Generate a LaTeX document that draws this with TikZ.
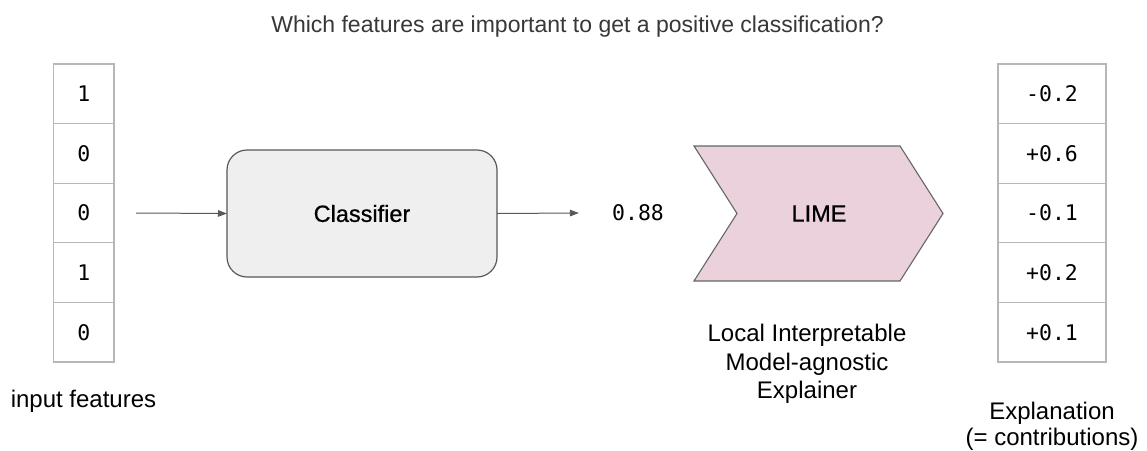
\documentclass[tikz,border=0pt]{standalone}
\usepackage{fontspec}
\setmainfont{Liberation Sans}
\newfontfamily\monofont{DejaVu Sans Mono}
\newfontfamily\mediumfont[FakeBold=0.7]{Liberation Sans}
\usetikzlibrary{arrows.meta}

\definecolor{cellline}{HTML}{B7B7B7}
\definecolor{boxline}{HTML}{595959}
\definecolor{boxfill}{HTML}{EFEFEF}
\definecolor{limefill}{HTML}{EAD1DC}
\definecolor{limeline}{HTML}{666666}
\definecolor{titlegray}{HTML}{383838}

\tikzset{
  cell/.style={draw=cellline, line width=1.3pt, fill=white, inner sep=0pt, outer sep=0pt,
    font=\monofont\fontsize{21.5}{26}\selectfont},
  leftcell/.style={cell, minimum width=60.5pt, minimum height=59.6pt},
  rightcell/.style={cell, minimum width=108pt, minimum height=59.6pt},
  label/.style={inner sep=0pt, font=\fontsize{24}{28.5}\selectfont, align=center},
  boxtext/.style={font=\mediumfont\fontsize{23.5}{28}\selectfont},
  arr/.style={draw=boxline, line width=1pt, -{Triangle[length=9pt,width=6.5pt]}},
}

\begin{document}
\begin{tikzpicture}[x=1pt, y=-1pt]
\useasboundingbox (0,0) rectangle (1147,450);
\fill[white] (0,0) rectangle (1147,450);

% heading
\node[label, anchor=base, text=titlegray, font=\fontsize{23}{27}\selectfont] (title) at (577.5,32)
  {Which features are important to get a positive classification?};

% input feature vector
\node[leftcell] (in1) at (83.75,93.8) {1};
\node[leftcell] (in2) at (83.75,153.4) {0};
\node[leftcell] (in3) at (83.75,213.0) {0};
\node[leftcell] (in4) at (83.75,272.6) {1};
\node[leftcell] (in5) at (83.75,332.2) {0};
\node[label, anchor=base] (inlabel) at (83.5,407) {input features};

% classifier
\node[draw=boxline, fill=boxfill, line width=1.2pt, rounded corners=20pt,
  minimum width=270pt, minimum height=127pt, inner sep=0pt, outer sep=0pt,
  boxtext] (clf) at (362,213.5) {Classifier};

% predicted score
\node[inner sep=0pt, font=\monofont\fontsize{21.5}{26}\selectfont] (score) at (638,213) {0.88};

% LIME chevron
\filldraw[fill=limefill, draw=limeline, line width=1.1pt, line join=miter]
  (694,146) -- (900,146) -- (943,213.5) -- (900,281) -- (694,281) -- (737,213.5) -- cycle;
\node[inner sep=0pt, boxtext] (lime) at (819,213.5) {LIME};
\node[label, anchor=north] (limelabel) at (807,324)
  {Local Interpretable\\Model-agnostic\\Explainer};

% explanation vector
\node[rightcell] (out1) at (1052,93.8) {-0.2};
\node[rightcell] (out2) at (1052,153.4) {+0.6};
\node[rightcell] (out3) at (1052,213.0) {-0.1};
\node[rightcell] (out4) at (1052,272.6) {+0.2};
\node[rightcell] (out5) at (1052,332.2) {+0.1};
\node[label, anchor=north, font=\fontsize{24}{26}\selectfont] (outlabel) at (1052,402)
  {Explanation\\(= contributions)};

% connectors
\draw[arr] ([xshift=22pt]in3.east) -- (clf.west);
\draw[arr] (clf.east) -- ([xshift=-33pt]score.west);
\end{tikzpicture}
\end{document}
